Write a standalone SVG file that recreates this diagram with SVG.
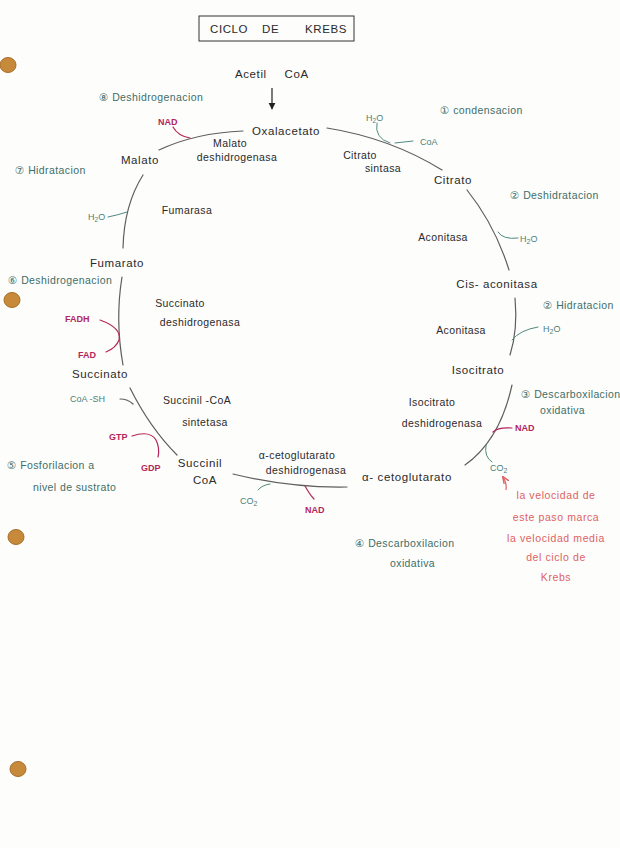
<svg xmlns="http://www.w3.org/2000/svg" width="620" height="848" viewBox="0 0 620 848">
<defs>
<style>
text{font-family:"Liberation Sans","DejaVu Sans",sans-serif;}
.k{fill:#2a2a2a;font-size:11.5px;letter-spacing:0.6px;}
.e{fill:#2a2a2a;font-size:10.5px;letter-spacing:0.4px;}
.t{fill:#3e6e68;font-size:10.5px;letter-spacing:0.4px;}
.ts{fill:#4f7f78;font-size:9px;}
.c{fill:#b3265c;font-size:9px;font-weight:bold;}
.r{fill:#de6262;font-size:10.5px;letter-spacing:0.6px;}
.m{fill:none;stroke:#5e5e5e;stroke-width:1.2;stroke-linecap:round;}
.bt{fill:none;stroke:#4f8a80;stroke-width:1;stroke-linecap:round;}
.bc{fill:none;stroke:#b3265c;stroke-width:1.2;stroke-linecap:round;}
.hole{fill:#c78a3a;stroke:#a86d26;stroke-width:1;}
</style>
<marker id="ah" viewBox="0 0 10 10" refX="9" refY="5" markerWidth="6" markerHeight="6" orient="auto"><path d="M0,0 L10,5 L0,10 z" fill="#222"/></marker>
<marker id="ahr" viewBox="0 0 10 10" refX="9" refY="5" markerWidth="6" markerHeight="6" orient="auto"><path d="M0,1 L10,5 L0,9" fill="none" stroke="#de6262" stroke-width="2"/></marker>
</defs>
<rect width="620" height="848" fill="#fdfdfc"/>
<g id="holes">
<ellipse class="hole" cx="8" cy="65" rx="8" ry="7.5"/>
<ellipse class="hole" cx="12" cy="300" rx="8" ry="7.5"/>
<ellipse class="hole" cx="16" cy="537" rx="8" ry="7.5"/>
<ellipse class="hole" cx="18" cy="769" rx="8" ry="7.5"/>
</g>
<g id="title">
<rect x="199" y="16" width="155" height="25" fill="none" stroke="#333" stroke-width="1"/>
<text class="k" x="210" y="33" font-size="12">CICLO</text>
<text class="k" x="262" y="33" font-size="12">DE</text>
<text class="k" x="305" y="33" font-size="12">KREBS</text>
</g>
<g id="connectors">
<line x1="272" y1="88" x2="272" y2="109" stroke="#222" stroke-width="1.2" marker-end="url(#ah)"/>
<path class="m" d="M327,128 Q390,138 442,170"/>
<path class="m" d="M467,190 Q495,225 509,270"/>
<path class="m" d="M515,298 Q518,330 510,355"/>
<path class="m" d="M512,385 Q500,440 465,465"/>
<path class="m" d="M233,474 Q290,488 347,487"/>
<path class="m" d="M130,388 Q150,428 177,455"/>
<path class="m" d="M122,277 Q115,320 123,365"/>
<path class="m" d="M143,175 Q124,205 123,248"/>
<path class="m" d="M159,150 Q195,133 243,131"/>
<path class="bc" d="M173,127 Q178,136 190,138"/>
<path class="bt" d="M377,123 Q374,138 390,143"/>
<path class="bt" d="M395,143 L413,141"/>
<path class="bt" d="M498,232 Q503,240 518,238"/>
<path class="bt" d="M512,340 Q520,330 538,327"/>
<path class="bc" d="M493,432 Q498,427 512,428"/>
<path class="bt" d="M486,445 Q484,457 492,462"/>
<path class="bc" d="M305,486 Q310,495 314,499"/>
<path class="bt" d="M258,490 Q262,485 270,484"/>
<path class="bc" d="M132,436 Q150,430 156,440 Q160,448 158,457"/>
<path class="m" d="M120,399 Q128,399 133,404" stroke="#888"/>
<path class="bc" d="M100,320 Q122,328 119,340 Q116,348 106,352"/>
<path class="bt" d="M108,217 Q118,215 127,212"/>
<path d="M506,490 Q507,483 503,477" fill="none" stroke="#de6262" stroke-width="1.2" marker-end="url(#ahr)"/>
</g>
<g id="acetilcoa"><text class="k" x="235" y="78" word-spacing="14">Acetil CoA</text></g>
<g id="oxalacetato"><text class="k" x="286" y="135" text-anchor="middle">Oxalacetato</text></g>
<g id="citrato"><text class="k" x="453" y="184" text-anchor="middle">Citrato</text></g>
<g id="cisaconitasa"><text class="k" x="497" y="288" text-anchor="middle">Cis- aconitasa</text></g>
<g id="isocitrato"><text class="k" x="478" y="374" text-anchor="middle">Isocitrato</text></g>
<g id="cetoglutarato"><text class="k" x="407" y="481" text-anchor="middle">α- cetoglutarato</text></g>
<g id="succinilcoa"><text class="k" x="200" y="467" text-anchor="middle">Succinil</text><text class="k" x="205" y="484" text-anchor="middle">CoA</text></g>
<g id="succinato"><text class="k" x="100" y="378" text-anchor="middle">Succinato</text></g>
<g id="fumarato"><text class="k" x="117" y="267" text-anchor="middle">Fumarato</text></g>
<g id="malato"><text class="k" x="140" y="164" text-anchor="middle">Malato</text></g>
<g id="enzymes">
<text class="e" x="230" y="147" text-anchor="middle">Malato</text>
<text class="e" x="237" y="161" text-anchor="middle">deshidrogenasa</text>
<text class="e" x="360" y="159" text-anchor="middle">Citrato</text>
<text class="e" x="383" y="172" text-anchor="middle">sintasa</text>
<text class="e" x="443" y="241" text-anchor="middle">Aconitasa</text>
<text class="e" x="461" y="334" text-anchor="middle">Aconitasa</text>
<text class="e" x="432" y="406" text-anchor="middle">Isocitrato</text>
<text class="e" x="442" y="427" text-anchor="middle">deshidrogenasa</text>
<text class="e" x="297" y="459" text-anchor="middle">α-cetoglutarato</text>
<text class="e" x="306" y="474" text-anchor="middle">deshidrogenasa</text>
<text class="e" x="197" y="404" text-anchor="middle">Succinil -CoA</text>
<text class="e" x="205" y="426" text-anchor="middle">sintetasa</text>
<text class="e" x="180" y="307" text-anchor="middle">Succinato</text>
<text class="e" x="200" y="326" text-anchor="middle">deshidrogenasa</text>
<text class="e" x="187" y="214" text-anchor="middle">Fumarasa</text>
</g>
<g id="steps">
<text class="t" x="99" y="101">⑧ Deshidrogenacion</text>
<text class="t" x="440" y="114">① condensacion</text>
<text class="t" x="510" y="199">② Deshidratacion</text>
<text class="t" x="543" y="309">② Hidratacion</text>
<text class="t" x="521" y="398" font-size="9.5" letter-spacing="0">③ Descarboxilacion</text>
<text class="t" x="540" y="414">oxidativa</text>
<text class="t" x="355" y="547">④ Descarboxilacion</text>
<text class="t" x="390" y="567">oxidativa</text>
<text class="t" x="7" y="469">⑤ Fosforilacion a</text>
<text class="t" x="33" y="491">nivel de sustrato</text>
<text class="t" x="8" y="284">⑥ Deshidrogenacion</text>
<text class="t" x="15" y="174">⑦ Hidratacion</text>
</g>
<g id="cofactors">
<text class="ts" x="366" y="121">H<tspan font-size="6.5" dy="2">2</tspan><tspan dy="-2">O</tspan></text>
<text class="ts" x="420" y="145">CoA</text>
<text class="ts" x="520" y="242" font-size="10">H<tspan font-size="7" dy="2">2</tspan><tspan dy="-2">O</tspan></text>
<text class="ts" x="543" y="332" font-size="10">H<tspan font-size="7" dy="2">2</tspan><tspan dy="-2">O</tspan></text>
<text class="ts" x="490" y="471" font-size="10">CO<tspan font-size="7" dy="2">2</tspan></text>
<text class="ts" x="240" y="504" font-size="10">CO<tspan font-size="7" dy="2">2</tspan></text>
<text class="ts" x="88" y="220">H<tspan font-size="6.5" dy="2">2</tspan><tspan dy="-2">O</tspan></text>
<text class="ts" x="70" y="402" font-size="9.5">CoA -SH</text>
<text class="c" x="158" y="125">NAD</text>
<text class="c" x="515" y="431">NAD</text>
<text class="c" x="305" y="513">NAD</text>
<text class="c" x="109" y="440">GTP</text>
<text class="c" x="141" y="471">GDP</text>
<text class="c" x="65" y="322">FADH</text>
<text class="c" x="78" y="358">FAD</text>
</g>
<g id="note">
<text class="r" x="556" y="499" text-anchor="middle">la velocidad de</text>
<text class="r" x="556" y="521" text-anchor="middle">este paso marca</text>
<text class="r" x="556" y="542" text-anchor="middle">la velocidad media</text>
<text class="r" x="556" y="561" text-anchor="middle">del ciclo de</text>
<text class="r" x="556" y="581" text-anchor="middle">Krebs</text>
</g>
</svg>
